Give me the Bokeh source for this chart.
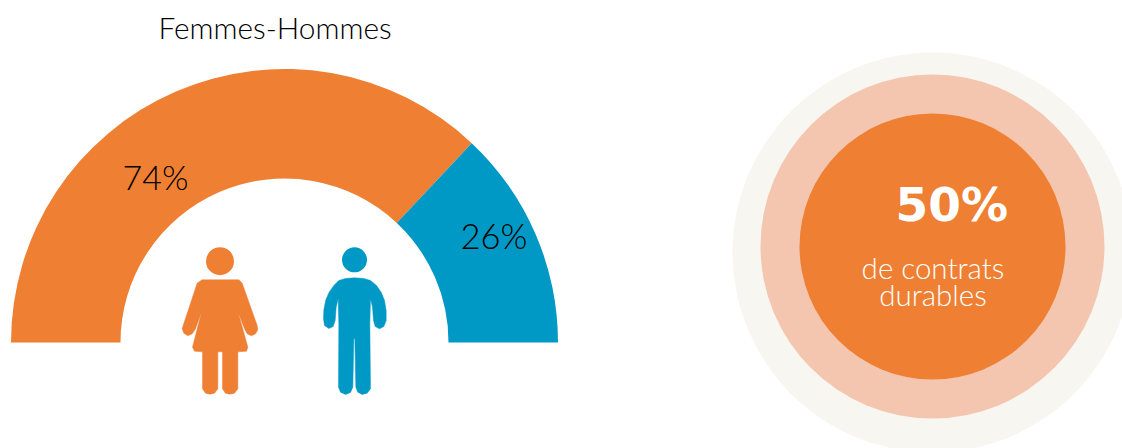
import math
from bokeh.plotting import figure
from bokeh.models import Range1d
from bokeh.core.properties import value
from bokeh.embed import file_html
from bokeh.resources import INLINE

# --- data ---
title = "Femmes-Hommes"
gauge_labels = ["Femmes", "Hommes"]
gauge_shares = [74, 26]
gauge_colors = ["#EE7F33", "#0098C5"]
gauge_texts = ["74%", "26%"]
rings_value = "50%"
rings_caption = ["de contrats", "durables"]

W, H = 1122, 448
FONT = "Lato Light"


def Y(py):
    return 448 - py


p = figure(width=W, height=H, output_backend="svg", toolbar_location=None,
           x_range=Range1d(0, 1122), y_range=Range1d(0, 448), min_border=0)
p.axis.visible = False
p.grid.visible = False
p.outline_line_color = None
p.background_fill_color = "white"
p.border_fill_color = "white"

# half-doughnut: the shares are spread over 180 degrees
cx, cy = 284, Y(342)
total = sum(gauge_shares)
a_split = math.pi * gauge_shares[1] / total
p.annular_wedge(x=[cx], y=[cy], inner_radius=164, outer_radius=273.5,
                start_angle=[a_split], end_angle=[math.pi],
                fill_color=gauge_colors[0], line_color=None)
p.annular_wedge(x=[cx], y=[cy], inner_radius=164, outer_radius=273.5,
                start_angle=[0], end_angle=[a_split],
                fill_color=gauge_colors[1], line_color=None)

# pictograms (outline traced in a 3x icon grid)
woman = [(95,148),(205,148),(215,158),(260,285),(262,298),(255,310),(243,316),(230,310),(222,295),
         (203,245),(232,350),(228,362),(202,364),(202,475),(192,488),(178,491),(165,488),(156,475),
         (156,364),(142,364),(142,475),(132,488),(118,491),(105,488),(96,475),(96,364),(72,362),
         (66,350),(93,245),(75,295),(65,310),(52,316),(40,308),(35,295),(38,285),(80,158)]
man = [(552,142),(580,144),(600,150),(618,165),(632,185),(642,210),(647,240),(647,270),(640,288),(627,295),
       (614,288),(609,270),(606,230),(600,205),(598,280),(600,475),(590,488),(575,492),(562,485),(556,470),
       (553,325),(550,325),(547,470),(540,486),(525,492),(510,485),(504,470),(505,280),(503,205),(497,230),
       (494,270),(488,288),(475,294),(462,285),(459,265),(460,238),(466,208),(476,185),(490,165),(505,150),(525,144)]
for shape, col in ((woman, gauge_colors[0]), (man, gauge_colors[1])):
    p.patch([170 + a / 3 for a, _ in shape], [Y(230 + b / 3) for _, b in shape],
            fill_color=col, line_color=col, line_width=0.5, line_join="round")
p.circle(x=[219.5], y=[Y(260.7)], radius=14, fill_color=gauge_colors[0], line_color=None)
p.circle(x=[354], y=[Y(259.3)], radius=12.5, fill_color=gauge_colors[1], line_color=None)

# rings
p.circle(x=[932], y=[Y(252)], radius=200, fill_color="#F7F6F1", line_color=None)
p.circle(x=[932], y=[Y(246)], radius=172, fill_color="#F5C6AF", line_color=None)
p.circle(x=[932], y=[Y(246)], radius=133, fill_color="#EE7F33", line_color=None)


def label(x, py, s, size, color, align="left", font=FONT, style="normal"):
    # the SVG backend sets alphabetic text about 0.42 em lower
    p.text(x=[x], y=[Y(py - 0.42 * size)], text=[s], text_font=value(font), text_font_size=f"{size}px",
           text_font_style=style, text_color=color, text_align=align, text_baseline="alphabetic")


label(158, 40, title, 29.8, "#000000")
label(122, 190, gauge_texts[0], 34, "#000000")
label(460, 249, gauge_texts[1], 34.5, "#000000")
label(895, 224, rings_value, 47, "white", font="DejaVu Sans", style="bold")
label(932.5, 279, rings_caption[0], 29.5, "white", align="center")
label(932.5, 306, rings_caption[1], 29.5, "white", align="center")

open("out.html", "w").write(file_html(p, INLINE))
